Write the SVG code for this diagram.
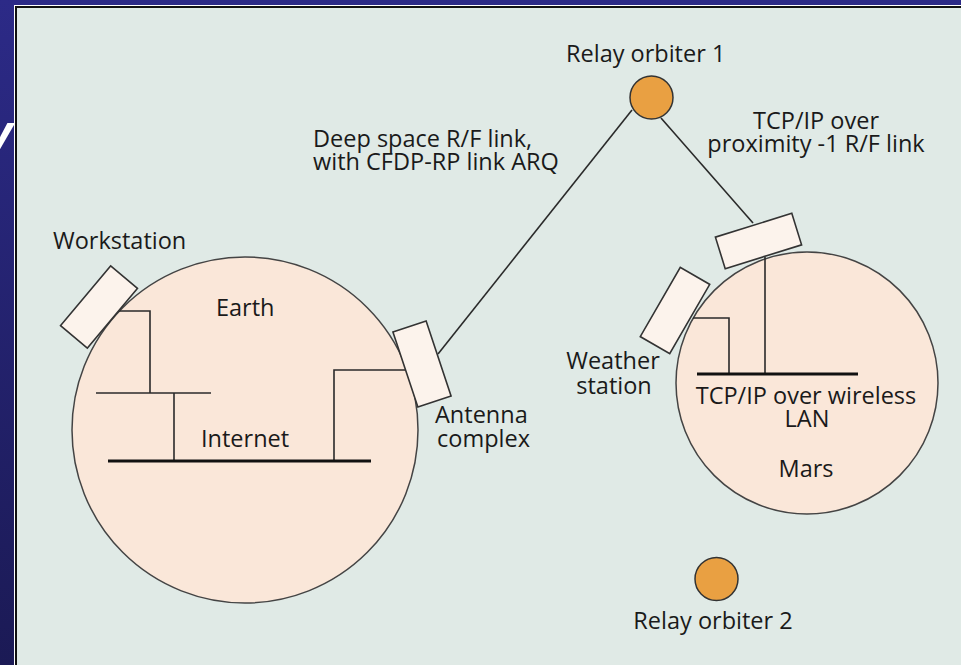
<svg xmlns="http://www.w3.org/2000/svg" width="961" height="665" viewBox="0 0 961 665">
<defs>
<linearGradient id="bg" x1="0" y1="0" x2="0" y2="1">
<stop offset="0" stop-color="#2c2a87"/>
<stop offset="1" stop-color="#1b1a55"/>
</linearGradient>
</defs>
<style>
text{font-family:"Open Sans","Noto Sans",sans-serif;font-size:23.5px;fill:#1a1a1a}
.planet{fill:#fae7d9;stroke:#444;stroke-width:1.5}
.box{fill:#fcf3ec;stroke:#333;stroke-width:1.6}
.orb{fill:#e9a042;stroke:#333;stroke-width:1.5}
.ln{fill:none;stroke:#2a2a2a;stroke-width:1.6}
.bus{fill:none;stroke:#111;stroke-width:3.2}
.mid{text-anchor:middle}
</style>
<rect x="0" y="0" width="961" height="665" fill="url(#bg)"/>
<text x="-16" y="150" style="font-family:'Liberation Sans',sans-serif;font-weight:bold;font-style:italic;font-size:52px;fill:#ffffff">y</text>
<rect x="14" y="5" width="950" height="665" fill="#ffffff"/>
<rect x="15" y="6" width="950" height="665" fill="#111111"/>
<rect x="17" y="8" width="950" height="665" fill="#e0eae6"/>

<g id="earth">
<circle class="planet" cx="245" cy="430" r="173"/>
<text x="216" y="316">Earth</text>
</g>
<g id="mars">
<circle class="planet" cx="807" cy="383" r="131"/>
<text class="mid" x="806" y="477">Mars</text>
</g>

<g id="connectors">
<line class="ln" x1="632" y1="110" x2="438" y2="354"/>
<line class="ln" x1="661" y1="118" x2="753" y2="223"/>
<polyline class="ln" points="118,311 150,311 150,393"/>
<line class="ln" x1="96" y1="393" x2="211" y2="393"/>
<line class="ln" x1="174" y1="393" x2="174" y2="461"/>
<polyline class="ln" points="334,461 334,370 405,370"/>
<polyline class="ln" points="693,318 729,318 729,374"/>
<line class="ln" x1="765" y1="257" x2="765" y2="374"/>
</g>

<g id="internet">
<line class="bus" x1="108" y1="461" x2="371" y2="461"/>
<text x="201" y="447">Internet</text>
</g>
<g id="wireless-lan">
<line class="bus" x1="697" y1="374" x2="858" y2="374"/>
<text class="mid" x="806" y="404">TCP/IP over wireless</text>
<text class="mid" x="807" y="427">LAN</text>
</g>

<g id="workstation">
<rect class="box" x="-17.5" y="-39" width="35" height="78" transform="translate(99,307) rotate(40)"/>
<text x="53" y="249">Workstation</text>
</g>
<g id="antenna-complex">
<rect class="box" x="-17.5" y="-39.5" width="35" height="79" transform="translate(422,364) rotate(-18.4)"/>
<text x="435" y="423">Antenna</text>
<text x="437" y="447">complex</text>
</g>
<g id="weather-station">
<rect class="box" x="-17" y="-40" width="34" height="80" transform="translate(675,310.5) rotate(30)"/>
<text class="mid" x="613" y="369">Weather</text>
<text class="mid" x="614" y="394">station</text>
</g>
<g id="mars-relay-antenna">
<rect class="box" x="-40" y="-16.5" width="80" height="33" transform="translate(758.5,241) rotate(-17.3)"/>
</g>

<g id="relay-orbiter-1">
<circle class="orb" cx="651.5" cy="97.5" r="21.5"/>
<text x="566" y="62">Relay orbiter 1</text>
</g>
<g id="relay-orbiter-2">
<circle class="orb" cx="716.5" cy="579" r="21.5"/>
<text class="mid" x="713" y="629">Relay orbiter 2</text>
</g>

<g id="labels">
<text x="313" y="147">Deep space R/F link,</text>
<text x="313" y="170">with CFDP-RP link ARQ</text>
<text class="mid" x="816" y="129">TCP/IP over</text>
<text class="mid" x="816" y="152">proximity -1 R/F link</text>
</g>
</svg>
